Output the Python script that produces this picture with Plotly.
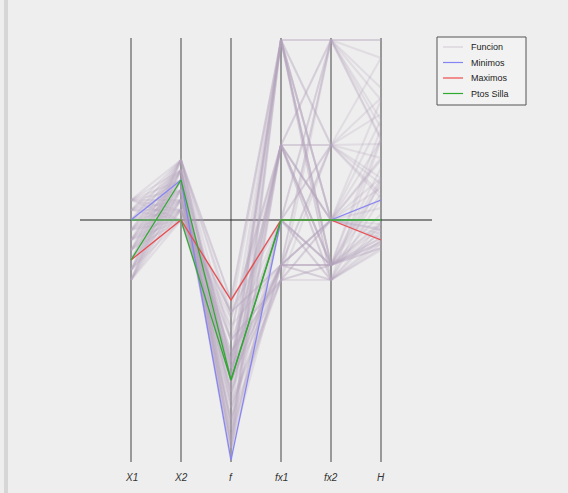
import plotly.graph_objects as go

# ---- data (common vertical scale, 0 = horizontal line) ----
AXIS_LABELS = ["X1", "X2", "f", "fx1", "fx2", "H"]

# grid of sampled points for the grey "Funcion" lines
X1_GRID = [-3, -2.5, -2, -1.5, -1, -0.5, 0, 0.5, 1]
X2_GRID = [0, 0.5, 1, 1.5, 2, 2.5, 3]
FX1_BY_X1 = [9, 3.75, 0, -2.25, -3, -2.25, 0, 3.75, 9]
FX2_BY_X2 = [0, -2.25, -3, -2.25, 0, 3.75, 9]
F_TABLE = [
    [-8.0, -8.6, -10.0, -11.4, -12.0, -11.1, -8.0],
    [-4.9, -5.5, -6.9, -8.3, -8.9, -8.0, -4.9],
    [-4.0, -4.6, -6.0, -7.4, -8.0, -7.1, -4.0],
    [-4.6, -5.3, -6.6, -8.0, -8.6, -7.8, -4.6],
    [-6.0, -6.6, -8.0, -9.4, -10.0, -9.1, -6.0],
    [-7.4, -8.0, -9.4, -10.8, -11.4, -10.5, -7.4],
    [-8.0, -8.6, -10.0, -11.4, -12.0, -11.1, -8.0],
    [-7.1, -7.8, -9.1, -10.5, -11.1, -10.3, -7.1],
    [-4.0, -4.6, -6.0, -7.4, -8.0, -7.1, -4.0],
]
H_TABLE = [
    [3.0, 2.1, 2.0, 2.6, 4.0, 6.1, 9.0],
    [0.6, -0.1, -0.2, 0.3, 1.6, 3.8, 6.6],
    [-0.5, -0.9, -1.0, -0.7, 0.0, 2.1, 5.0],
    [-0.9, -1.4, -1.4, -1.1, -0.4, 1.3, 4.1],
    [-1.0, -1.4, -1.5, -1.2, -0.5, 1.1, 4.0],
    [-0.7, -1.1, -1.2, -0.9, -0.2, 1.8, 4.6],
    [0.0, -0.4, -0.5, -0.2, 1.0, 3.1, 6.0],
    [2.1, 1.3, 1.1, 1.8, 3.1, 5.3, 8.1],
    [5.0, 4.1, 4.0, 4.6, 6.0, 8.1, 9.0],
]

# critical points
MINIMOS = [[0, 2, -12, 0, 0, 1]]
MAXIMOS = [[-2, 0, -4, 0, 0, -1]]
PTOS_SILLA = [[0, 0, -8, 0, 0, 0], [-2, 2, -8, 0, 0, 0]]

LEGEND_NAMES = ["Funcion", "Minimos", "Maximos", "Ptos Silla"]

# ---- styling ----
BG = "#eeeeee"
GREY = "rgba(178,165,188,0.24)"
GREY_LEG = "#d6cfd9"
BLUE = "#8484f6"
RED = "#ee4a4a"
GREEN = "#2eaa2e"
AXIS_COL = "#444444"
W, HGT = 560, 485          # page has an 8px body margin
X0PX, DXPX = 123, 50       # pixel of first axis, spacing
Y0PX, DYPX = 212, 20       # pixel of zero line, pixels per unit
Y_TOP, Y_BOT = (Y0PX - 30) / DYPX, (Y0PX - 454) / DYPX

fig = go.Figure()
xs = list(range(len(AXIS_LABELS)))

for i, x1 in enumerate(X1_GRID):
    for j, x2 in enumerate(X2_GRID):
        row = [x1, x2, F_TABLE[i][j], FX1_BY_X1[i], FX2_BY_X2[j], H_TABLE[i][j]]
        fig.add_trace(go.Scatter(
            x=xs, y=row, mode="lines",
            line=dict(color=GREY, width=2.0),
            name="Funcion", showlegend=False, hoverinfo="skip"))

def add_group(rows, color, name):
    for row in rows:
        fig.add_trace(go.Scatter(
            x=xs, y=row, mode="lines", line=dict(color=color, width=1.2),
            name=name, showlegend=False))

add_group(MINIMOS, BLUE, "Minimos")
add_group(MAXIMOS, RED, "Maximos")
add_group(PTOS_SILLA, GREEN, "Ptos Silla")

def px(x):
    return x / W

def py(y):
    return 1 - y / HGT

shapes = []
for i in xs:
    shapes.append(dict(type="line", xref="x", yref="y", x0=i, x1=i, y0=Y_BOT, y1=Y_TOP,
                       line=dict(color=AXIS_COL, width=1), layer="below"))
shapes.append(dict(type="line", xref="x", yref="y", x0=-1.02, x1=6.02, y0=0, y1=0,
                   line=dict(color="#222222", width=1), layer="below"))

annotations = [dict(x=i, y=(Y0PX - 469) / DYPX, xref="x", yref="y", text="<i>%s</i>" % lab,
                    showarrow=False, font=dict(family="Liberation Sans", size=10, color="#333333"))
               for i, lab in zip(xs, AXIS_LABELS)]

# manual legend box
LX0, LY0, LX1, LY1 = 429, 29, 518, 97
shapes.append(dict(type="rect", xref="paper", yref="paper", x0=px(LX0), x1=px(LX1),
                   y0=py(LY1), y1=py(LY0), fillcolor="#f2f2f2",
                   line=dict(color="#555555", width=1)))
leg_cols = [GREY_LEG, BLUE, RED, GREEN]
for k, (nm, col) in enumerate(zip(LEGEND_NAMES, leg_cols)):
    yy = 39 + 15.5 * k
    shapes.append(dict(type="line", xref="paper", yref="paper", x0=px(435), x1=px(455),
                       y0=py(yy), y1=py(yy), line=dict(color=col, width=1.2)))
    annotations.append(dict(x=px(461), y=py(yy), xref="paper", yref="paper", text=nm,
                            xanchor="left", yanchor="middle", showarrow=False,
                            font=dict(family="Liberation Sans", size=9, color="#222222")))

fig.update_layout(
    width=W, height=HGT,
    margin=dict(l=0, r=0, t=0, b=0),
    paper_bgcolor=BG, plot_bgcolor=BG,
    xaxis=dict(visible=False, range=[-X0PX / DXPX, (W - X0PX) / DXPX], fixedrange=True),
    yaxis=dict(visible=False, range=[(Y0PX - HGT) / DYPX, Y0PX / DYPX], fixedrange=True),
    shapes=shapes, annotations=annotations,
    showlegend=False,
)

page_bg = ("document.body.style.background="
           "'linear-gradient(to right, #eeeeee 0px, #eeeeee 4px, #d6d6d6 4px, "
           "#d6d6d6 8px, #eeeeee 8px)';"
           "document.body.style.overflow='hidden';")
fig.write_html("out.html", post_script=page_bg)
